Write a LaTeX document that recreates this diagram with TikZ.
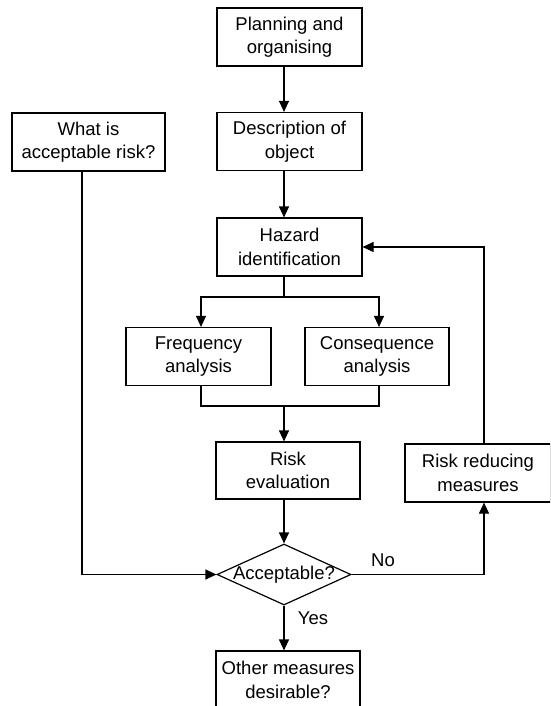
\documentclass[tikz,border=0pt]{standalone}
\usepackage{fontspec}
\setmainfont{Liberation Sans}
\usetikzlibrary{arrows.meta,shapes.geometric}
\begin{document}
\begin{tikzpicture}[x=1pt,y=-1pt,
  every node/.style={font=\fontsize{18.5}{23.5}\selectfont},
  box/.style={draw, line width=1.2pt, align=center, inner sep=0pt, minimum width=145pt, minimum height=58pt},
  conn/.style={line width=1.2pt},
  arr/.style={conn, -{Triangle[length=11pt,width=10pt]}}]
\clip (0,0) rectangle (550,706);
\useasboundingbox (0,0) rectangle (550,706);
\fill[white] (0,0) rectangle (550,706);
% axes for connectors
\coordinate (axis) at (284,0);
\coordinate (bl) at (201,297);
\coordinate (br) at (379,297);
\coordinate (merge) at (0,406);
\coordinate (loopx) at (484,0);
\coordinate (whatx) at (82,0);
% nodes
\node[box] (plan) at (289.5,37) {Planning and\\organising};
\node[box] (desc) at (289.5,141.5) {Description of\\object};
\node[box, minimum width=153pt] (what) at (88.5,142) {What is\\acceptable risk?};
\node[box] (haz) at (289.5,247) {Hazard\\identification};
\node[box] (freq) at (198.5,356.5) {Frequency\\analysis};
\node[box, minimum width=144pt] (cons) at (377,356.5) {Consequence\\analysis};
\node[box, minimum width=144pt, minimum height=57pt] (eval) at (288,470.5) {Risk\\evaluation};
\node[draw, line width=1.2pt, diamond, inner sep=0pt, minimum width=134pt, minimum height=61pt,
      label={center:Acceptable?}] (dia) at (284,574.5) {};
\node[box, minimum width=144pt] (other) at (288,680) {Other measures\\desirable?};
\node[box, minimum width=146pt] (reduce) at (478,473) {Risk reducing\\measures};
\node (no) at (383,560) {No};
\node (yes) at (313,618) {Yes};
% connectors
\draw[arr] (plan.south -| axis) -- (desc.north -| axis);
\draw[arr] (desc.south -| axis) -- (haz.north -| axis);
\draw[arr] (haz.south -| axis) |- (bl) -- (bl |- freq.north);
\draw[arr] (axis |- bl) -- (br) -- (br |- cons.north);
\draw[conn] (freq.south -| bl) -- (bl |- merge) -- (br |- merge) -- (cons.south -| br);
\draw[arr] (axis |- merge) -- (eval.north -| axis);
\draw[arr] (eval.south -| axis) -- (dia.north);
\draw[arr] (dia.south) -- (other.north -| dia.south);
\draw[arr] (dia.east) -| (reduce.south -| loopx);
\draw[arr] (reduce.north -| loopx) |- (haz.east);
\draw[arr] (what.south -| whatx) |- (dia.west);
\end{tikzpicture}
\end{document}
